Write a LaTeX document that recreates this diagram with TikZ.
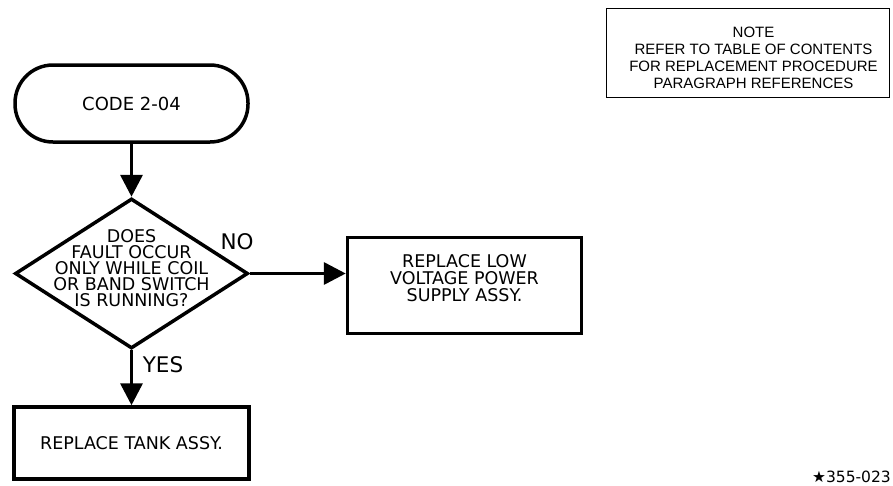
\documentclass[tikz,border=0pt]{standalone}
\usepackage{fontspec}
\setmainfont{DejaVu Sans}
\newfontfamily\notefont{Liberation Sans}
\usetikzlibrary{arrows.meta,positioning,shapes.geometric}

\begin{document}
\begin{tikzpicture}[x=1pt,y=-1pt,node distance=53pt,
  font=\fontsize{17.5}{17}\selectfont,
  flow/.style={draw,line width=3.5pt,align=center,inner sep=0pt},
  terminal/.style={flow,rounded corners=38pt,minimum width=233pt,minimum height=77pt},
  decision/.style={flow,diamond,minimum width=233pt,minimum height=150pt},
  action/.style={flow,rectangle},
  link/.style={line width=3.5pt,-{Triangle[width=22pt,length=22pt]}},
  answer/.style={font=\fontsize{21.5}{21}\selectfont,inner sep=0pt}]
\useasboundingbox (0,0) rectangle (893,485);

\node[terminal,font=\fontsize{18}{17}\selectfont] (code) at (131.5,103.5) {CODE 2-04};
\node[decision,below=of code] (dec) {};
\node[align=center,inner sep=0pt,font=\fontsize{17.5}{16}\selectfont] (ask) at ([yshift=5pt]dec.center)
  {DOES\\FAULT OCCUR\\ONLY WHILE COIL\\OR BAND SWITCH\\IS RUNNING?};
\node[action,right=96pt of dec,yshift=-12pt,minimum width=234pt,minimum height=96pt,
  label={[align=center,shift={(0pt,7pt)}]center:REPLACE LOW\\VOLTAGE POWER\\SUPPLY ASSY.}] (low) {};
\node[action,below=55pt of dec,minimum width=235pt,minimum height=72pt] (tank) {REPLACE TANK ASSY.};

\node[answer] (no) at (237,242) {NO};
\node[answer] (yes) at (163,365) {YES};

\draw[link] (code) -- (dec);
\draw[link] (dec.east) -- (dec.east -| low.west);
\draw[link] (dec) -- (tank);

\node[draw,line width=0.8pt,minimum width=283pt,minimum height=89pt,at={(747.5,52.5)},
  label={[align=center,shift={(6pt,-5pt)},font=\notefont\fontsize{15}{17}\selectfont]center:NOTE\\REFER TO TABLE OF CONTENTS\\FOR REPLACEMENT PROCEDURE\\PARAGRAPH REFERENCES}] (note) {};
\node[anchor=south east,inner sep=0pt,font=\fontsize{15.5}{16}\selectfont] (ref) at (891,483) {★355-023};
\end{tikzpicture}
\end{document}
